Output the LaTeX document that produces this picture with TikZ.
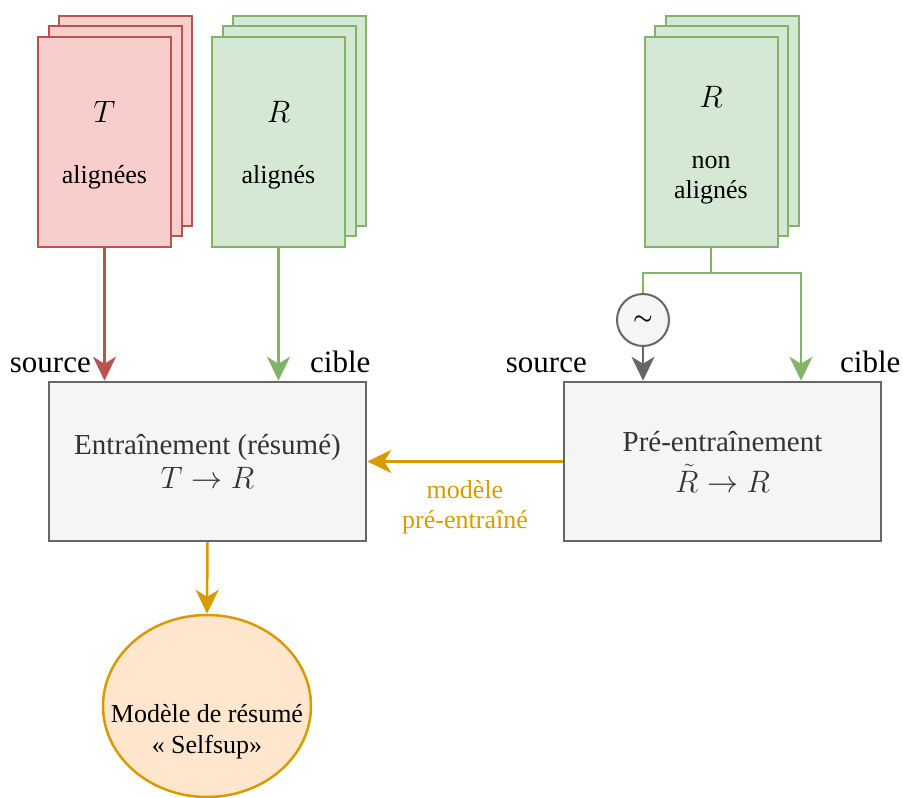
\RequirePackage{fix-cm}
\documentclass[tikz,border=0pt]{standalone}
\usepackage{fontspec}
\setmainfont{Liberation Serif}
\usetikzlibrary{positioning}
\usetikzlibrary{calc, arrows.meta, shapes.geometric}

\definecolor{redfill}{HTML}{F8CECC}
\definecolor{redline}{HTML}{B85450}
\definecolor{greenfill}{HTML}{D5E8D4}
\definecolor{greenline}{HTML}{82B366}
\definecolor{grayfill}{HTML}{F5F5F5}
\definecolor{grayline}{HTML}{666666}
\definecolor{graytext}{HTML}{333333}
\definecolor{orangefill}{HTML}{FFE6CC}
\definecolor{orangeline}{HTML}{D79B00}

\newcommand{\bigmath}[1]{{\fontsize{31}{34}\selectfont$#1$}}

\tikzset{
  page/.style={rectangle, line width=2pt, minimum width=133pt, minimum height=210pt, inner sep=0pt, align=center,
    font=\fontsize{26}{30}\selectfont},
  redpage/.style={page, draw=redline, fill=redfill},
  greenpage/.style={page, draw=greenline, fill=greenfill},
  trainbox/.style={rectangle, draw=grayline, fill=grayfill, line width=2.5pt, minimum width=317pt, minimum height=159pt,
    align=center, text=graytext, font=\fontsize{29}{33}\selectfont},
  sidelabel/.style={font=\fontsize{31}{36}\selectfont, inner sep=0pt},
  link/.style={line width=2.5pt, -{Stealth[length=24pt, width=23pt, inset=7pt]}},
}

\begin{document}
\begin{tikzpicture}[x=1pt, y=1pt]
\useasboundingbox (0,0) rectangle (903,798);

% stacks of documents
\foreach \d in {21,10.5} {
  \node[redpage] at ($(104.5,656)+(\d,\d)$) {};
  \node[greenpage] at ($(278.5,656)+(\d,\d)$) {};
  \node[greenpage] at ($(711,656)+(\d,\d)$) {};
}
\node[redpage] (texts) at (104.5,656) {\rule{0pt}{28pt}\bigmath{T}\\[31pt]alignées};
\node[greenpage] (sums) at (278.5,656) {\rule{0pt}{28pt}\bigmath{R}\\[31pt]alignés};
\node[greenpage] (freesums) at (711,656) {\rule{0pt}{28pt}\bigmath{R}\\[31pt]non\\alignés};

% training boxes
\node[trainbox] (train) at (207.5,336.5) {Entraînement (résumé)\\[1pt]\bigmath{T \rightarrow R}};
\node[trainbox] (pretrain) at (722.5,336.5) {Pré-entraînement\\[8pt]\bigmath{\tilde{R} \rightarrow R}};

% noise
\node[circle, draw=grayline, fill=grayfill, line width=2pt, minimum size=52pt, inner sep=0pt,
  font=\fontsize{22}{24}\selectfont\boldmath] (noise) at (643,478) {$\sim$};

% final model
\node[ellipse, draw=orangeline, fill=orangefill, line width=2.5pt, minimum width=208pt, minimum height=182pt,
  label={[yshift=-26pt, align=center, font=\fontsize{26}{31}\selectfont]center:Modèle de résumé\\« Selfsup»}] (model) at (207,92) {};

% labels
\node[sidelabel, anchor=base east] (srcL) at (91,425) {source};
\node[sidelabel, anchor=base west] (tgtL) at (310,425) {cible};
\node[sidelabel, anchor=base east] (srcR) at (587,425) {source};
\node[sidelabel, anchor=base west] (tgtR) at (840,425) {cible};

% connectors
\coordinate (fork) at (711,525);
\coordinate (tgtin) at (801,525);
\draw[link, redline] (texts.south) -- (texts.south |- train.north);
\draw[link, greenline] (sums.south) -- (sums.south |- train.north);
\draw[line width=2.5pt, greenline] (freesums.south) -- (fork) -- (fork -| noise) -- (noise.north);
\draw[link, greenline] (fork) -- (tgtin) -- (tgtin |- pretrain.north);
\draw[link, grayline] (noise.south) -- (noise.south |- pretrain.north);
\draw[link, orangeline] (pretrain.west) -- node[below=14pt, align=center, text=orangeline,
  font=\fontsize{26}{30}\selectfont] (pretrained) {modèle\\pré-entraîné} (train.east);
\draw[link, orangeline] (train.south) -- (model.north);

\end{tikzpicture}
\end{document}
